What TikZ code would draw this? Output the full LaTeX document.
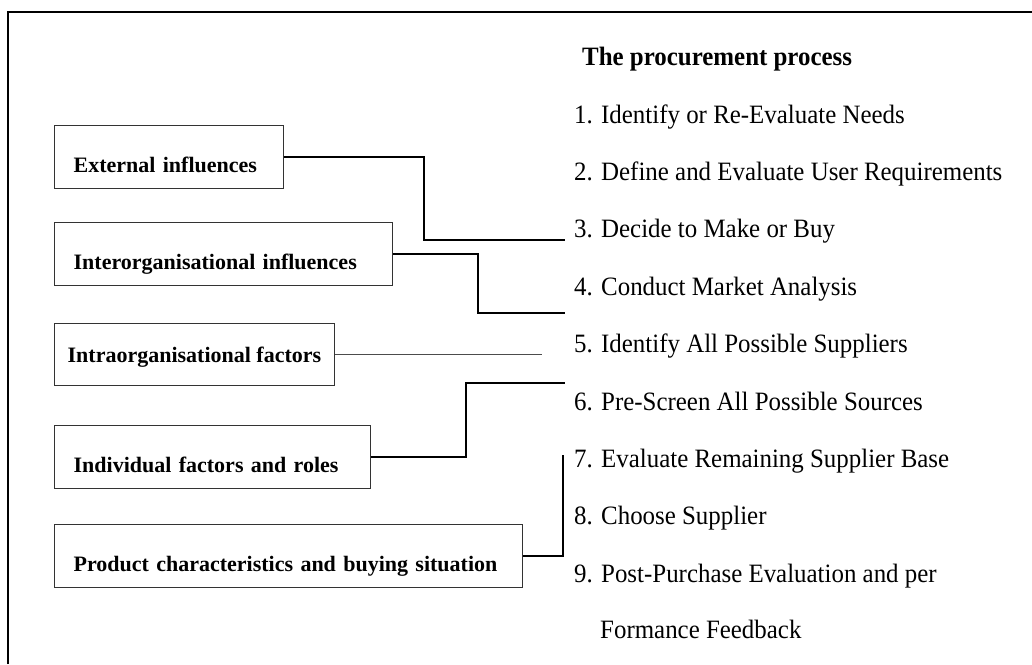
\documentclass[tikz,border=0pt]{standalone}
\usepackage{fontspec}
\setmainfont{Liberation Serif}
\newfontfamily\listfont[FakeStretch=0.94]{Liberation Serif}
\tikzset{
  factor/.style={draw=black!80, line width=1.3pt, anchor=north west, inner xsep=19pt, inner ysep=0pt,
    text height=47pt, text depth=16pt, align=left, font=\bfseries\fontsize{22}{26}\selectfont},
  item/.style={anchor=base west, inner sep=0pt, font=\listfont\fontsize{26.5}{32}\selectfont},
  link/.style={line width=2.6pt}
}
\begin{document}
\begin{tikzpicture}[x=1pt,y=-1pt]
  \useasboundingbox (0,0) rectangle (1032,664);
  % 外框
  \draw[line width=2pt] (8,664) -- (8,12) -- (1032,12);
  % 左侧方框
  \node[factor, text width=191pt] (ext) at (54,125) {External influences};
  \node[factor, text width=300pt] (inter) at (54,222) {Interorganisational influences};
  \node[factor, inner xsep=13pt, text height=39pt, text depth=23pt] (intra) at (54,323) {Intraorganisational factors};
  \node[factor, text width=278pt] (indiv) at (54,425) {Individual factors and roles};
  \node[factor, text width=430pt] (prod) at (54,524) {Product characteristics and buying situation};
  % 右侧流程
  \node[item, font=\listfont\bfseries\fontsize{26.5}{32}\selectfont] (title) at (582,65) {The procurement process};
  \node[item] (p1) at (574,123) {1. Identify or Re-Evaluate Needs};
  \node[item] (p2) at (574,180) {2. Define and Evaluate User Requirements};
  \node[item] (p3) at (574,237) {3. Decide to Make or Buy};
  \node[item] (p4) at (574,295) {4. Conduct Market Analysis};
  \node[item] (p5) at (574,352) {5. Identify All Possible Suppliers};
  \node[item] (p6) at (574,410) {6. Pre-Screen All Possible Sources};
  \node[item] (p7) at (574,467) {7. Evaluate Remaining Supplier Base};
  \node[item] (p8) at (574,524) {8. Choose Supplier};
  \node[item] (p9) at (574,582) {9. Post-Purchase Evaluation and per};
  \node[item] (p9b) at (600,638) {Formance Feedback};
  % 连线端点
  \coordinate (c3) at (565,240);
  \coordinate (c4) at (565,313);
  \coordinate (c5) at (542,353);
  \coordinate (c6) at (565,383);
  \coordinate (c7) at (563,455);
  % 连线
  \draw[link] (ext.east) -| (424,240) -- (c3);
  \draw[link] (inter.east) -| (478,313) -- (c4);
  \draw[line width=1.6pt, black!70] (intra.east) -- (intra.east -| c5);
  \draw[link] (indiv.east) -| (466,383) -- (c6);
  \draw[link] (prod.east) -| (c7);
\end{tikzpicture}
\end{document}
